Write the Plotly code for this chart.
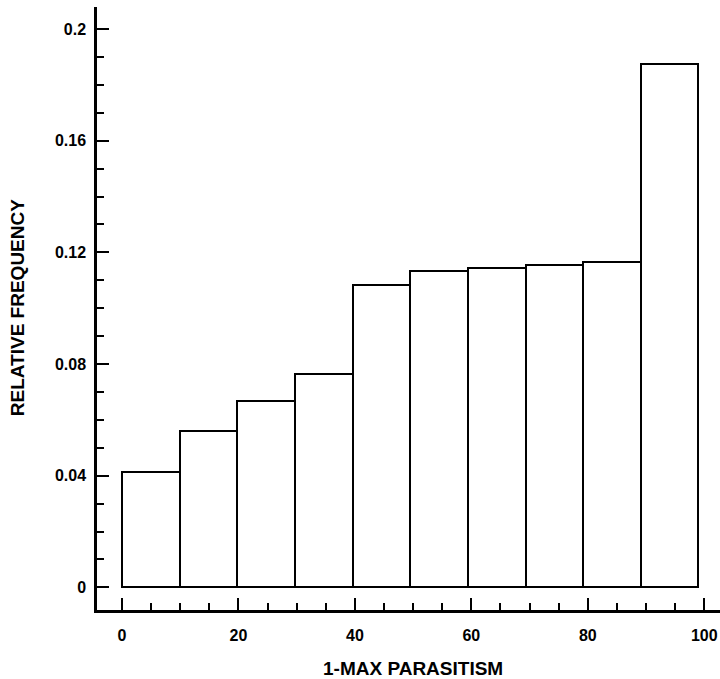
import plotly.graph_objects as go

# Data
bin_starts = [0, 9.9, 19.8, 29.7, 39.6, 49.5, 59.4, 69.3, 79.2, 89.1]
bin_width = 9.9
rel_freq = [0.0414, 0.0560, 0.0666, 0.0765, 0.1084, 0.1133, 0.1143, 0.1156, 0.1167, 0.1876]

x_tickvals = [0, 20, 40, 60, 80, 100]
x_ticktext = ["0", "20", "40", "60", "80", "100"]
y_tickvals = [0, 0.04, 0.08, 0.12, 0.16, 0.2]
y_ticktext = ["0", "0.04", "0.08", "0.12", "0.16", "0.2"]

x_title = "1-MAX PARASITISM"
y_title = "RELATIVE FREQUENCY"

FONT = "Liberation Sans, Arial, Helvetica, sans-serif"

fig = go.Figure()
fig.add_trace(go.Bar(
    x=bin_starts,
    y=rel_freq,
    width=[bin_width] * len(rel_freq),
    offset=0,
    marker=dict(color="white", line=dict(color="black", width=2)),
    showlegend=False,
))

fig.update_layout(
    width=720, height=679,
    margin=dict(l=97, r=0, t=7, b=69),
    paper_bgcolor="white", plot_bgcolor="white",
    font=dict(family=FONT, color="black", size=16),
    bargap=0,
)

fig.update_xaxes(
    range=[-4.29, 102.7],
    automargin=False,
    showgrid=False, zeroline=False,
    showline=True, linecolor="black", linewidth=2.5,
    tickmode="array", tickvals=x_tickvals, ticktext=x_ticktext,
    ticks="inside", ticklen=12, tickwidth=2, tickcolor="black",
    minor=dict(tickmode="linear", tick0=0, dtick=5, ticks="inside",
               ticklen=7, tickwidth=2, tickcolor="black", showgrid=False),
    tickfont=dict(size=16, family=FONT, color="black", weight="bold"),
    ticklabelstandoff=9,
    ticklabeloverflow="allow",
)
fig.update_yaxes(
    range=[-0.0081, 0.2079],
    automargin=False,
    showgrid=False, zeroline=False,
    showline=True, linecolor="black", linewidth=2.5,
    tickmode="array", tickvals=y_tickvals, ticktext=y_ticktext,
    ticks="inside", ticklen=12, tickwidth=2, tickcolor="black",
    minor=dict(tickmode="linear", tick0=0, dtick=0.01, ticks="inside",
               ticklen=7, tickwidth=2, tickcolor="black", showgrid=False),
    tickfont=dict(size=16, family=FONT, color="black", weight="bold"),
    ticklabelstandoff=5,
    ticklabeloverflow="allow",
)

fig.add_annotation(
    text=x_title, xref="x", x=50, yref="paper", y=0,
    yanchor="middle", yshift=-58, showarrow=False,
    font=dict(size=19, family=FONT, color="black", weight="bold"),
)
fig.add_annotation(
    text=y_title, xref="paper", x=0, yref="y", y=0.1,
    xanchor="center", yanchor="middle", xshift=-80, textangle=-90, showarrow=False,
    font=dict(size=19, family=FONT, color="black", weight="bold"),
)

fig.write_html(
    "out.html",
    config={"displayModeBar": False},
    post_script="document.body.style.margin='0';document.body.style.overflow='hidden';",
)
